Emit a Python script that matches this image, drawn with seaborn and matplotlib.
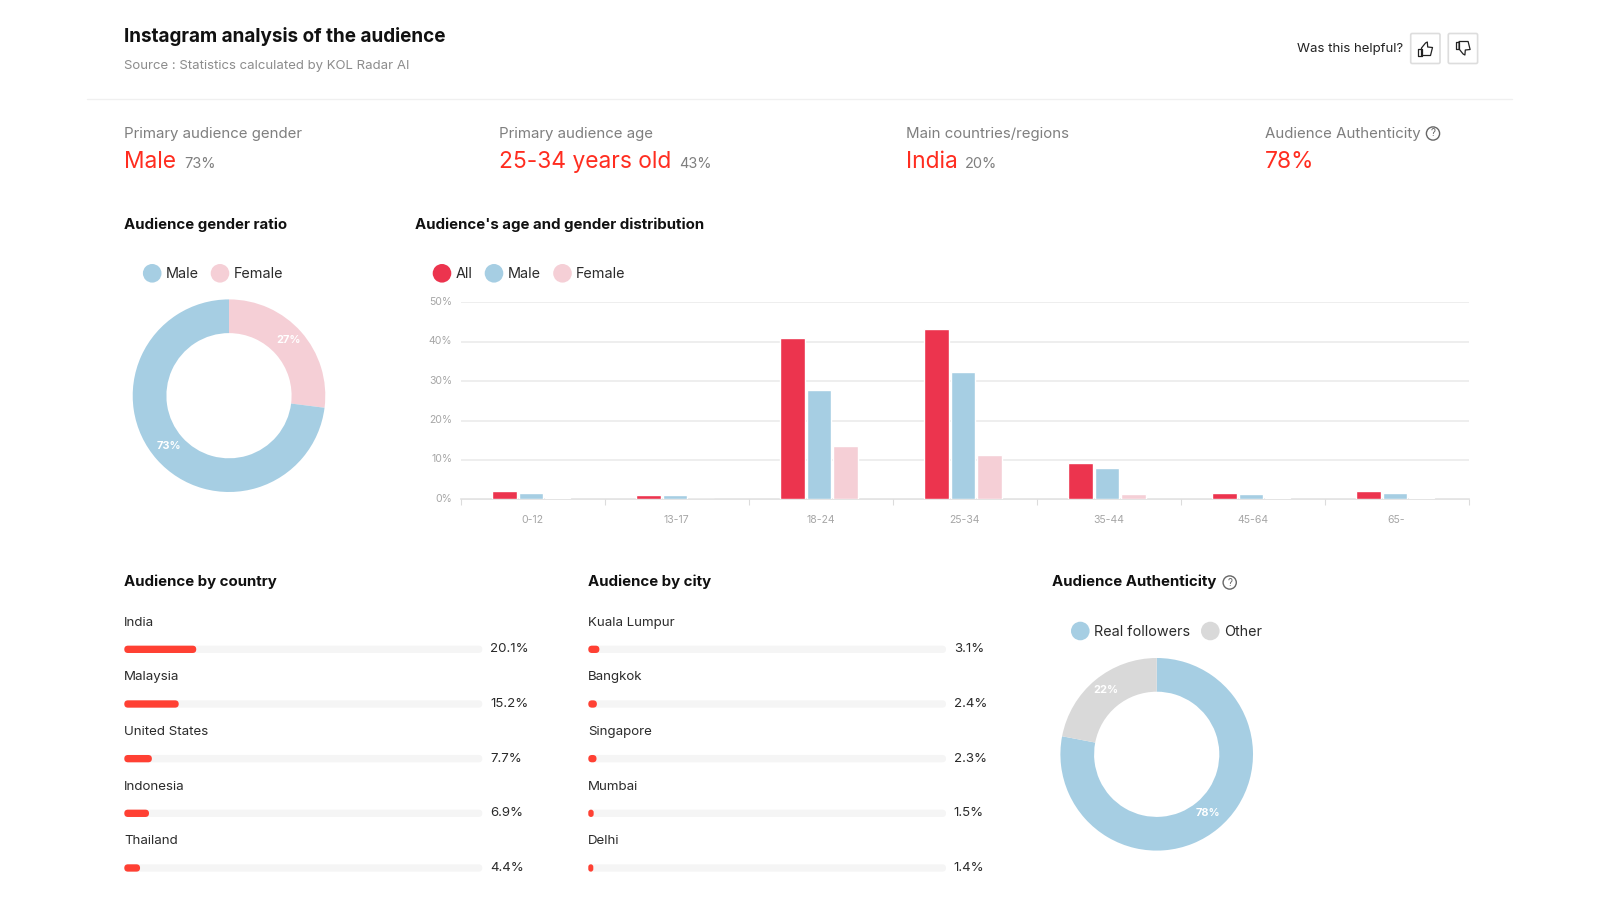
import matplotlib
matplotlib.use('Agg')
import matplotlib.pyplot as plt
from matplotlib.patches import Circle, FancyBboxPatch, Polygon
from matplotlib.transforms import IdentityTransform, ScaledTranslation
import numpy as np
import pandas as pd
import seaborn as sns

age_groups = ['0-12', '13-17', '18-24', '25-34', '35-44', '45-64', '65-']
age_all = [2.0, 1.0, 41.0, 43.3, 9.2, 1.7, 2.0]
age_male = [1.7, 1.0, 27.7, 32.2, 8.0, 1.3, 1.7]
age_female = [0.4, 0.0, 13.5, 11.2, 1.3, 0.3, 0.3]
y_ticks = [0, 10, 20, 30, 40, 50]

gender_labels = ['Female', 'Male']
gender_values = [27, 73]
auth_labels = ['Real followers', 'Other']
auth_values = [78, 22]

countries = ['India', 'Malaysia', 'United States', 'Indonesia', 'Thailand']
country_values = [20.1, 15.2, 7.7, 6.9, 4.4]
cities = ['Kuala Lumpur', 'Bangkok', 'Singapore', 'Mumbai', 'Delhi']
city_values = [3.1, 2.4, 2.3, 1.5, 1.4]

BLUE = '#a6cee3'
PINK = '#f5cfd6'
CRIMSON = '#ec344e'
GREY = '#d9d9d9'
RED = '#ff2d20'
BAR_RED = '#ff4033'
TRACK = '#f5f5f5'
MUTED = '#7f7f7f'
INK = '#111111'
BODY = '#2b2b2b'

sns.set_theme(style='white')
plt.rcParams['font.family'] = ['Inter', 'DejaVu Sans']

W, H = 1600, 900
fig = plt.figure(figsize=(16, 9), dpi=100, facecolor='white')


def fs(px):
    return px * 0.72


def add_ax(x0, y0, x1, y1):
    return fig.add_axes([x0 / W, 1 - y1 / H, (x1 - x0) / W, (y1 - y0) / H])


# page layer in pixel coordinates, for the headings and legends
page = fig.add_axes([0, 0, 1, 1], zorder=0)
page.set_xlim(0, W)
page.set_ylim(H, 0)
page.axis('off')


def put(x, y, s, size, color=BODY, weight='normal', ha='left'):
    page.text(x, y + 1.2, s, fontsize=fs(size), color=color, fontweight=weight, ha=ha, va='center')


def dot(x, y, color, r=9.3):
    page.add_patch(Circle((x, y), r, fc=color, ec='none'))


def help_icon(x, y):
    page.add_patch(Circle((x, y), 6.6, fc='none', ec='#666666', lw=1))
    put(x, y - 1.2, '?', 10, color='#666666', ha='center')


def thumb(cx, cy, flip):
    s = -1 if flip else 1
    hand = [(-4, -0.5), (0, -5.5), (1.8, -6.5), (2.2, -1.5), (7, -1), (5, 7), (-4, 7)]
    cuff = [(-7.5, 0), (-4, 0), (-4, 7), (-7.5, 7)]
    for pts in (hand, cuff):
        page.add_patch(Polygon([(cx + a, cy + s * b) for a, b in pts], closed=True,
                               fc='none', ec='#222222', lw=0.9, joinstyle='round'))


put(124.5, 35, 'Instagram analysis of the audience', 18.9, color=INK, weight='bold')
put(124.5, 64.5, 'Source : Statistics calculated by KOL Radar AI', 13.2, color='#8c8c8c')
put(1297, 47.8, 'Was this helpful?', 13.2, color='#222222')
for x0, flip in [(1410.7, False), (1448.3, True)]:
    page.add_patch(FancyBboxPatch((x0, 33.5), 29.3, 30, boxstyle='round,pad=0,rounding_size=1.5',
                                  fc='white', ec='#dddddd', lw=1.2))
    thumb(x0 + 14.8, 48.5, flip)
page.plot([87, 1512], [98.7, 98.7], color='#f0f0f0', lw=1)

put(124.5, 132.5, 'Primary audience gender', 15, color=MUTED)
put(124.5, 161, 'Male', 22.8, color=RED)
put(184, 163.3, '73%', 14.5, color=MUTED)
put(498.6, 132.5, 'Primary audience age', 15, color=MUTED)
put(498.6, 161, '25-34 years old', 22.8, color=RED)
put(679.5, 163.3, '43%', 14.5, color=MUTED)
put(906, 132.5, 'Main countries/regions', 15, color=MUTED)
put(906, 161, 'India', 22.8, color=RED)
put(965, 163.3, '20%', 14.5, color=MUTED)
put(1265, 132.5, 'Audience Authenticity', 15, color=MUTED)
help_icon(1433, 133.5)
put(1265, 161, '78%', 22.8, color=RED)

put(124.5, 223.3, 'Audience gender ratio', 15, color=INK, weight='bold')
put(414.7, 223.3, "Audience's age and gender distribution", 15, color=INK, weight='bold')
put(124.5, 581, 'Audience by country', 15, color=INK, weight='bold')
put(588, 581, 'Audience by city', 15, color=INK, weight='bold')
put(1052, 581, 'Audience Authenticity', 15, color=INK, weight='bold')
help_icon(1229.7, 582.5)

for x, tx, c, s in [(152.2, 166, BLUE, 'Male'), (220, 234, PINK, 'Female'),
                    (442, 456, CRIMSON, 'All'), (494, 507.6, BLUE, 'Male'),
                    (562.5, 576, PINK, 'Female')]:
    dot(x, 273.3, c)
    put(tx, 273.3, s, 14.4)
dot(1080.3, 631, BLUE)
put(1094.3, 631, auth_labels[0], 14.4)
dot(1210.3, 631, GREY)
put(1223.7, 631, auth_labels[1], 14.4)


def donut(cx, cy, values, colors):
    ax = add_ax(cx - 96.3, cy - 96.3, cx + 96.3, cy + 96.3)
    _, _, autotexts = ax.pie(values, colors=colors, startangle=90, counterclock=False, radius=1,
                             autopct='%d%%', pctdistance=0.83,
                             wedgeprops=dict(width=0.35, linewidth=0))
    for t in autotexts:
        t.set_color('white')
        t.set_fontsize(fs(11))
        t.set_fontweight('bold')
        tx, ty = t.get_position()
        t.set_position((tx, ty + 0.03))
    ax.set_xlim(-1, 1)
    ax.set_ylim(-1, 1)


donut(229, 395.7, gender_values, [PINK, BLUE])
donut(1156.7, 754.3, auth_values, [BLUE, GREY])

# age and gender bars
age_df = pd.DataFrame({'age': age_groups, 'All': age_all, 'Male': age_male, 'Female': age_female})
age_long = age_df.melt(id_vars='age', var_name='group', value_name='share')
ax = add_ax(460.6, 302.3, 1468.6, 499.3)
sns.barplot(data=age_long, x='age', y='share', hue='group', ax=ax, width=0.55, gap=0.06,
            palette={'All': CRIMSON, 'Male': BLUE, 'Female': PINK}, saturation=1, legend=False)
# the groups sit a little left of the category centre in the original
for bar in ax.patches:
    bar.set_x(bar.get_x() - 0.011)
ax.set_xlim(-0.5, 6.5)
ax.set_ylim(0, 50)
ax.set_xlabel('')
ax.set_ylabel('')
ax.set_yticks(y_ticks)
ax.set_yticklabels([f'{v}%' for v in y_ticks])
ax.set_xticks(np.arange(-0.5, 7, 1), minor=True)
ax.grid(axis='y', color='#e9e9e9', lw=1.1)
ax.set_axisbelow(True)
ax.tick_params(axis='y', length=0, pad=6, labelsize=fs(10.5), labelcolor='#a6a6a6')
ax.tick_params(axis='x', which='major', length=0, pad=11, labelsize=fs(10.5), labelcolor='#a6a6a6')
ax.tick_params(axis='x', which='minor', length=4.3, width=0.8, color='#dcdcdc', bottom=True)
for label in ax.get_yticklabels():
    label.set_transform(label.get_transform() + ScaledTranslation(0, 1.5 / 100, fig.dpi_scale_trans))
sns.despine(ax=ax, left=True, top=True, right=True)
ax.spines['bottom'].set_color('#dcdcdc')
ax.spines['bottom'].set_linewidth(1.1)
ax.spines['bottom'].set_zorder(0.5)


def round_bars(ax):
    # swap each bar for a pill of the same size on screen
    for bar in list(ax.patches):
        bb = bar.get_window_extent()
        r = min(bb.width, bb.height) / 2
        ax.add_patch(FancyBboxPatch((bb.x0, bb.y0), bb.width, bb.height,
                                    boxstyle=f'round,pad=0,rounding_size={r}',
                                    transform=IdentityTransform(), fc=bar.get_facecolor(),
                                    ec='none', clip_on=False))
        bar.set_visible(False)


def rank_panel(x0, x1, names, values):
    ax = add_ax(x0, 622, x1, 895.3)
    sns.barplot(x=[100] * len(names), y=names, ax=ax, color=TRACK, saturation=1, width=0.134)
    sns.barplot(x=values, y=names, ax=ax, color=BAR_RED, saturation=1, width=0.134)
    ax.set_xlim(0, 100)
    ax.set_ylim(4.5, -0.5)
    ax.axis('off')
    round_bars(ax)
    for i, (name, v) in enumerate(zip(names, values)):
        ax.text(0, i - 0.49, name, fontsize=fs(13.3), color=BODY, va='center')
        ax.text(102.2, i, f'{v}%', fontsize=fs(13.3), color=BODY, va='center')


rank_panel(124.3, 482.3, countries, country_values)
rank_panel(588.3, 946, cities, city_values)

fig.savefig('out.png', dpi=100)
